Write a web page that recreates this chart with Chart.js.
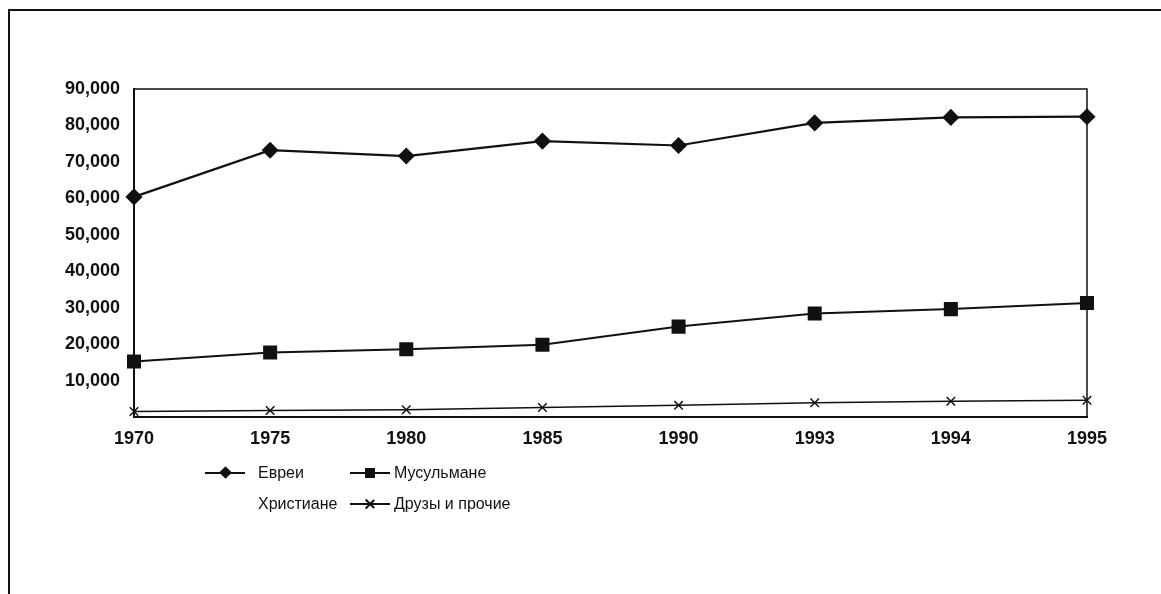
<!DOCTYPE html>
<html>
<head>
<meta charset="utf-8">
<script src="https://cdn.jsdelivr.net/npm/chart.js@4.4.1/dist/chart.umd.min.js"></script>
<style>
  html, body { margin: 0; padding: 0; background: #fff; }
  #wrap { position: absolute; left: 0; top: 0; width: 1161px; height: 594px; }
  #frame {
    position: absolute; left: 8px; top: 9px; right: 0; bottom: 0;
    border-left: 2px solid #111; border-top: 2px solid #111;
  }
  #legend {
    position: absolute; left: 205px; top: 457px;
    display: grid; grid-template-columns: 45px 100px 41px auto;
    grid-auto-rows: 31px; align-items: center;
    font-family: "Liberation Sans", Arial, sans-serif; font-size: 16px; color: #111;
  }
  .sym { position: relative; width: 40px; height: 14px; }
  .sym .ln { position: absolute; left: 0; right: 0; top: 6px; border-top: 2px solid #111; }
  .sym .mk { position: absolute; left: 50%; top: 7px; background: #111; }
  .mk.diamond { width: 9px; height: 9px; margin: -4.5px 0 0 -4.5px; transform: rotate(45deg); }
  .mk.square { width: 10px; height: 10px; margin: -5px 0 0 -5px; }
  .mk.cross { background: none !important; width: 10px; height: 10px; margin: -5px 0 0 -5px; }
  .mk.cross:before, .mk.cross:after {
    content: ""; position: absolute; left: 4px; top: -1px; width: 1.5px; height: 12px; background: #111;
  }
  .mk.cross:before { transform: rotate(45deg); }
  .mk.cross:after { transform: rotate(-45deg); }
  .txt { padding-left: 8px; white-space: nowrap; }
  .txt2 { padding-left: 3px; white-space: nowrap; }
</style>
</head>
<body>
<div id="frame"></div>
<div id="wrap"><canvas id="birthsChart"></canvas></div>
<div id="legend"></div>
<script>
// years on the x axis
const years = ['1970', '1975', '1980', '1985', '1990', '1993', '1994', '1995'];

// values
const jews = [60400, 73200, 71600, 75700, 74500, 80700, 82200, 82400];
const muslims = [15200, 17700, 18600, 19800, 24800, 28400, 29600, 31300];
const christians = [null, null, null, null, null, null, null, null]; // line not visible in print
const druze = [1500, 1800, 2000, 2600, 3200, 3900, 4300, 4600];

const seriesNames = ['Евреи', 'Мусульмане', 'Христиане', 'Друзы и прочие'];

const ink = '#111';

// draw the top and right edges of the plot box
const plotBox = {
    id: 'plotBox',
    beforeDatasetsDraw(chart) {
        const { ctx, chartArea: a } = chart;
        ctx.save();
        ctx.strokeStyle = ink;
        ctx.lineWidth = 1.5;
        ctx.beginPath();
        ctx.moveTo(a.left, a.top);
        ctx.lineTo(a.right, a.top);
        ctx.lineTo(a.right, a.bottom);
        ctx.stroke();
        ctx.restore();
    }
};

const chart = new Chart(document.getElementById('birthsChart'), {
    type: 'line',
    data: {
        labels: years,
        datasets: [{
            label: seriesNames[0],
            data: jews,
            borderColor: ink,
            backgroundColor: ink,
            borderWidth: 2.2,
            pointStyle: 'rectRot',
            pointRadius: 7,
            clip: false
        }, {
            label: seriesNames[1],
            data: muslims,
            borderColor: ink,
            backgroundColor: ink,
            borderWidth: 2,
            pointStyle: 'rect',
            pointRadius: 8.5,
            clip: false
        }, {
            label: seriesNames[2],
            data: christians,
            borderColor: 'rgba(0,0,0,0)',
            backgroundColor: 'rgba(0,0,0,0)',
            pointStyle: false,
            pointRadius: 0
        }, {
            label: seriesNames[3],
            data: druze,
            borderColor: ink,
            backgroundColor: ink,
            borderWidth: 1.5,
            pointStyle: 'crossRot',
            pointRadius: 6,
            pointBorderWidth: 1.5,
            clip: false
        }]
    },
    options: {
        responsive: true,
        maintainAspectRatio: false,
        animation: false,
        layout: { padding: { left: 0, top: 89, right: 74, bottom: 135 } },
        plugins: {
            legend: { display: false },
            tooltip: { enabled: false }
        },
        scales: {
            x: {
                offset: false,
                grid: { display: false },
                border: { display: true, color: ink, width: 2 },
                ticks: {
                    color: ink,
                    font: { family: '"Liberation Sans", Arial, sans-serif', size: 18, weight: 'bold' },
                    padding: 3,
                    maxRotation: 0,
                    autoSkip: false
                },
                afterFit(scale) { scale.height = 42; }
            },
            y: {
                min: 0,
                max: 90000,
                grid: { display: false },
                border: { display: true, color: ink, width: 2 },
                ticks: {
                    stepSize: 10000,
                    color: ink,
                    font: { family: '"Liberation Sans", Arial, sans-serif', size: 18, weight: 'bold' },
                    padding: 6,
                    callback: v => v === 0 ? '' : v.toLocaleString('en-US')
                },
                afterFit(scale) { scale.width = 134; }
            }
        }
    },
    plugins: [plotBox]
});

// legend in two rows, built from the datasets
const markers = { rectRot: 'diamond', rect: 'square', crossRot: 'cross' };
const legendEl = document.getElementById('legend');
chart.data.datasets.forEach((ds, i) => {
    const sym = document.createElement('div');
    if (ds.pointStyle) {
        sym.className = 'sym';
        sym.innerHTML = '<div class="ln"></div><div class="mk ' + markers[ds.pointStyle] + '"></div>';
    }
    const txt = document.createElement('div');
    txt.className = i % 2 === 0 ? 'txt' : 'txt2';
    txt.textContent = ds.label;
    legendEl.appendChild(sym);
    legendEl.appendChild(txt);
});
</script>
</body>
</html>
